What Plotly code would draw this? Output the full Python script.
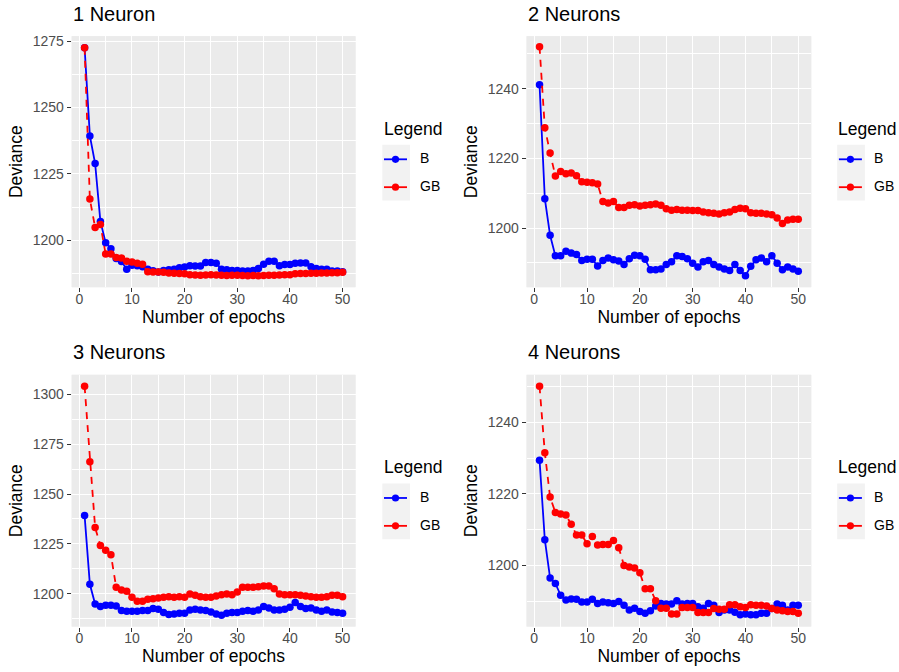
import plotly.graph_objects as go

epochs = list(range(1, 51))

# 1 Neuron
b_1 = [1272.5, 1239.3, 1228.9, 1207.1, 1199.1, 1196.8, 1193.1, 1192.0, 1189.1, 1190.6,
       1190.4, 1190.0, 1189.1, 1188.5, 1188.0, 1188.6, 1188.9, 1189.1, 1189.6, 1189.9,
       1190.4, 1190.3, 1190.3, 1191.6, 1191.6, 1191.3, 1189.1, 1188.9, 1188.6, 1188.6,
       1188.4, 1188.4, 1188.6, 1189.4, 1191.0, 1192.1, 1192.1, 1190.4, 1190.9, 1190.9,
       1191.3, 1191.4, 1191.4, 1190.0, 1189.4, 1189.1, 1189.1, 1188.4, 1188.4, 1188.1]
gb_1 = [1272.5, 1215.5, 1204.8, 1205.9, 1194.8, 1194.8, 1193.5, 1193.3, 1192.1, 1191.8,
        1191.3, 1191.0, 1188.1, 1188.0, 1188.0, 1187.9, 1187.7, 1187.6, 1187.5, 1187.4,
        1187.0, 1186.9, 1186.8, 1186.9, 1187.0, 1186.9, 1186.8, 1186.7, 1186.8, 1186.8,
        1186.7, 1186.6, 1186.7, 1186.6, 1186.7, 1186.8, 1186.8, 1186.9, 1187.0, 1187.0,
        1187.4, 1187.5, 1187.5, 1187.6, 1187.6, 1187.7, 1187.7, 1187.8, 1187.8, 1187.9]

# 2 Neurons
b_2 = [1241.1, 1208.4, 1197.9, 1192.0, 1192.0, 1193.3, 1192.8, 1192.4, 1190.7, 1191.0,
       1191.0, 1189.1, 1190.7, 1191.4, 1190.9, 1190.5, 1189.5, 1191.2, 1192.2, 1192.0,
       1191.0, 1188.0, 1188.0, 1188.2, 1189.5, 1190.3, 1192.0, 1191.8, 1191.2, 1189.9,
       1188.8, 1190.3, 1190.7, 1189.5, 1188.8, 1188.2, 1187.8, 1189.5, 1187.8, 1186.3,
       1189.0, 1190.9, 1191.4, 1190.3, 1192.0, 1189.9, 1188.0, 1188.8, 1188.2, 1187.6]
gb_2 = [1252.0, 1228.8, 1221.5, 1214.9, 1216.2, 1215.6, 1215.8, 1215.0, 1213.3, 1213.1,
        1213.0, 1212.6, 1207.6, 1207.2, 1207.6, 1205.9, 1205.9, 1206.5, 1206.7, 1206.3,
        1206.5, 1206.7, 1206.9, 1206.5, 1205.5, 1205.1, 1205.3, 1205.1, 1205.1, 1205.0,
        1205.0, 1204.6, 1204.4, 1204.2, 1204.0, 1204.4, 1204.6, 1205.3, 1205.7, 1205.5,
        1204.4, 1204.2, 1204.2, 1204.0, 1203.8, 1202.9, 1201.3, 1202.3, 1202.5, 1202.5]

# 3 Neurons
b_3 = [1239.2, 1204.7, 1194.8, 1193.5, 1194.2, 1194.2, 1193.8, 1191.5, 1191.2, 1191.2,
       1191.2, 1191.5, 1191.5, 1192.5, 1192.2, 1190.5, 1189.5, 1189.8, 1190.2, 1190.2,
       1191.8, 1192.2, 1191.8, 1191.5, 1190.8, 1189.8, 1189.2, 1190.2, 1190.5, 1190.5,
       1191.2, 1191.5, 1191.2, 1191.8, 1193.5, 1192.8, 1191.8, 1191.8, 1192.2, 1193.2,
       1195.5, 1193.5, 1192.5, 1192.8, 1191.8, 1191.2, 1191.8, 1190.8, 1190.5, 1190.2]
gb_3 = [1304.2, 1266.2, 1233.2, 1224.2, 1221.8, 1219.5, 1203.2, 1201.8, 1201.2, 1198.2,
        1196.2, 1196.2, 1197.2, 1197.5, 1197.8, 1198.2, 1198.5, 1198.2, 1198.5, 1198.2,
        1199.8, 1199.2, 1198.5, 1198.2, 1198.2, 1198.8, 1199.5, 1199.8, 1199.5, 1200.8,
        1203.2, 1203.2, 1203.2, 1203.5, 1203.8, 1203.8, 1202.5, 1199.8, 1199.5, 1199.5,
        1199.5, 1199.2, 1198.8, 1198.5, 1198.2, 1198.2, 1198.5, 1199.2, 1199.2, 1198.5]

# 4 Neurons
b_4 = [1229.4, 1207.2, 1196.5, 1195.0, 1191.7, 1190.4, 1190.7, 1190.6, 1189.8, 1189.8,
       1190.6, 1189.4, 1189.8, 1189.6, 1189.4, 1190.0, 1188.9, 1187.6, 1188.1, 1187.2,
       1186.7, 1187.4, 1188.7, 1189.4, 1189.3, 1189.3, 1190.2, 1189.3, 1189.4, 1189.4,
       1188.5, 1188.1, 1189.4, 1188.9, 1186.9, 1187.6, 1187.6, 1187.0, 1186.3, 1186.5,
       1186.3, 1186.3, 1186.7, 1186.7, 1188.0, 1189.3, 1188.9, 1187.6, 1188.9, 1188.9]
gb_4 = [1250.0, 1231.5, 1219.1, 1214.8, 1214.4, 1214.1, 1211.5, 1208.5, 1208.5, 1206.1,
        1208.1, 1205.7, 1205.9, 1205.9, 1207.0, 1205.0, 1200.0, 1199.6, 1199.3, 1198.0,
        1193.5, 1193.5, 1190.2, 1188.1, 1188.1, 1186.5, 1186.5, 1188.3, 1188.3, 1188.3,
        1186.9, 1186.9, 1186.9, 1188.0, 1187.8, 1187.8, 1189.1, 1189.1, 1188.5, 1188.3,
        1189.1, 1188.9, 1188.9, 1188.7, 1188.0, 1187.6, 1187.4, 1187.2, 1187.2, 1186.7]

titles = ["1 Neuron", "2 Neurons", "3 Neurons", "4 Neurons"]
series_b = [b_1, b_2, b_3, b_4]
series_gb = [gb_1, gb_2, gb_3, gb_4]
x_ticks = [0, 10, 20, 30, 40, 50]
y_ticks = [[1200, 1225, 1250, 1275], [1200, 1220, 1240],
           [1200, 1225, 1250, 1275, 1300], [1200, 1220, 1240]]
legend_labels = ["B", "GB"]

W, H = 899, 672
FONT = "Liberation Sans, Arial, Helvetica, sans-serif"
BLUE, RED = "#0000FF", "#FF0000"

# layout geometry (pixels)
col_x = [(71.7, 355.5), (526.6, 811.2)]
row_y = [(33.3, 285.4), (373.5, 626.3)]
y_ranges = [[1182.34, 1276.88], [1183.03, 1255.06], [1183.5, 1309.9], [1183.0, 1253.2]]
y_dticks = [25, 20, 25, 20]

def fx(p):
    return p / W

def fy(p):
    return 1 - p / H

fig = go.Figure()
shapes = []
annotations = []

for i in range(4):
    r, c = divmod(i, 2)
    ax = "" if i == 0 else str(i + 1)
    xa, ya = "x" + ax, "y" + ax
    fig.add_trace(go.Scatter(x=epochs, y=series_b[i], mode="lines+markers", name="B",
                             line=dict(color=BLUE, width=1.8),
                             marker=dict(color=BLUE, size=7.5),
                             xaxis=xa, yaxis=ya, showlegend=False))
    fig.add_trace(go.Scatter(x=epochs, y=series_gb[i], mode="lines+markers", name="GB",
                             line=dict(color=RED, width=1.8, dash="7px,6px"),
                             marker=dict(color=RED, size=7.5),
                             xaxis=xa, yaxis=ya, showlegend=False))
    x0, x1 = col_x[c]
    y0, y1 = row_y[r]
    common = dict(showgrid=True, gridcolor="white", gridwidth=1.4,
                  zeroline=False, showline=False, ticks="outside", ticklen=4,
                  tickwidth=1.2, tickcolor="#333333",
                  tickfont=dict(size=14, color="#4D4D4D", family=FONT))
    fig.layout["xaxis" + ax] = dict(
        domain=[fx(x0), fx(x1)], anchor=ya, range=[-1.45, 52.45],
        tickvals=x_ticks, ticklabelstandoff=-5,
        minor=dict(tickvals=[5, 15, 25, 35, 45], showgrid=True, gridcolor="white",
                   gridwidth=0.7, ticks=""),
        title=dict(text="Number of epochs", font=dict(size=17.5, color="black", family=FONT),
                   standoff=2),
        **common)
    yt = y_ticks[i]
    dt = y_dticks[i]
    minors = [v + dt / 2 for v in [yt[0] - dt] + yt]
    fig.layout["yaxis" + ax] = dict(
        domain=[fy(y1), fy(y0)], anchor=xa, range=y_ranges[i],
        tickvals=yt,
        minor=dict(tickvals=minors, showgrid=True, gridcolor="white",
                   gridwidth=0.7, ticks=""),
        title=dict(text="Deviance", font=dict(size=17.5, color="black", family=FONT),
                   standoff=5),
        **common)
    # panel title
    annotations.append(dict(text=titles[i], xref="paper", yref="paper",
                            x=fx(x0 - 0.5), y=fy(y0 - 22.5), xanchor="left", yanchor="middle",
                            showarrow=False, font=dict(size=20, color="black", family=FONT)))
    # manual legend
    dx = x0 - col_x[0][0]
    dy = y0 - row_y[0][0]
    annotations.append(dict(text="Legend", xref="paper", yref="paper",
                            x=fx(381.5 + dx), y=fy(126.3 + dy), xanchor="left", yanchor="middle",
                            showarrow=False, font=dict(size=17.5, color="black", family=FONT)))
    shapes.append(dict(type="rect", xref="paper", yref="paper", layer="below",
                       x0=fx(382.3 + dx), x1=fx(410 + dx), y0=fy(198.5 + dy), y1=fy(142.5 + dy),
                       fillcolor="#F2F2F2", line=dict(width=0)))
    for k, (lab, col) in enumerate(zip(legend_labels, [BLUE, RED])):
        cy = [157.0, 185.0][k] + dy
        shapes.append(dict(type="line", xref="paper", yref="paper",
                           x0=fx(384 + dx), x1=fx(407 + dx), y0=fy(cy), y1=fy(cy),
                           line=dict(color=col, width=1.8)))
        shapes.append(dict(type="circle", xref="paper", yref="paper",
                           x0=fx(395.5 + dx - 3.6), x1=fx(395.5 + dx + 3.6),
                           y0=fy(cy + 3.6), y1=fy(cy - 3.6),
                           fillcolor=col, line=dict(width=0)))
        annotations.append(dict(text=lab, xref="paper", yref="paper",
                                x=fx(417.5 + dx), y=fy(cy - 1), xanchor="left", yanchor="middle",
                                showarrow=False, font=dict(size=14, color="black", family=FONT)))
    # panel background
    shapes.append(dict(type="rect", xref="paper", yref="paper", layer="below",
                       x0=fx(x0), x1=fx(x1), y0=fy(y1), y1=fy(y0),
                       fillcolor="#EBEBEB", line=dict(width=0)))

fig.update_layout(width=W, height=H, margin=dict(l=0, r=0, t=0, b=0),
                  paper_bgcolor="white", plot_bgcolor="#EBEBEB",
                  font=dict(family=FONT), showlegend=False,
                  shapes=shapes, annotations=annotations)

fig.write_html("out.html")
